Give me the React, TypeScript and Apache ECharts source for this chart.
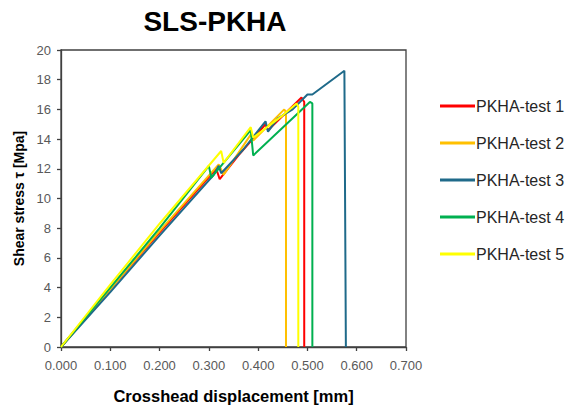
import React, { useEffect, useRef } from "react";
import * as echarts from "echarts";

const seriesNames = ["PKHA-test 1", "PKHA-test 2", "PKHA-test 3", "PKHA-test 4", "PKHA-test 5"];
const seriesColors = ["#FF0000", "#FFC000", "#1F6A8A", "#00B050", "#FFFF00"];

const test1: [number, number][] = [
  [0, 0], [0.1, 3.9], [0.2, 7.7], [0.315, 12.0], [0.322, 11.3], [0.36, 12.9],
  [0.415, 15.0], [0.42, 14.6], [0.488, 16.8], [0.4935, 16.5], [0.4935, 0],
];
const test2: [number, number][] = [
  [0, 0], [0.1, 3.9], [0.2, 7.8], [0.32, 12.3], [0.33, 11.6], [0.385, 14.3],
  [0.39, 13.9], [0.453, 16.0], [0.4565, 15.8], [0.4565, 0],
];
const test3: [number, number][] = [
  [0, 0], [0.1, 3.7], [0.2, 7.5], [0.31, 11.6], [0.32, 12.2], [0.325, 11.7],
  [0.37, 13.3], [0.415, 15.2], [0.42, 14.5], [0.44, 15.4], [0.47, 16.0],
  [0.5, 17.0], [0.51, 17.0], [0.575, 18.6], [0.578, 0],
];
const test4: [number, number][] = [
  [0, 0], [0.1, 4.0], [0.2, 8.0], [0.3, 12.2], [0.305, 11.4], [0.385, 14.6],
  [0.39, 12.9], [0.505, 16.5], [0.51, 16.4], [0.51, 0],
];
const test5: [number, number][] = [
  [0, 0], [0.1, 4.2], [0.2, 8.3], [0.325, 13.2], [0.33, 12.4], [0.385, 14.8],
  [0.39, 14.1], [0.45, 15.6], [0.478, 16.4], [0.4815, 16.2], [0.4815, 0],
];
const allData = [test1, test2, test3, test4, test5];

const xTicks = { min: 0, max: 0.7, interval: 0.1 };
const yTicks = { min: 0, max: 20, interval: 2 };

export default function App() {
  const ref = useRef<HTMLDivElement>(null);
  useEffect(() => {
    if (!ref.current) return;
    const chart = echarts.init(ref.current, undefined, { renderer: "svg" });
    const axisColor = "#404040";
    chart.setOption({
      animation: false,
      backgroundColor: "#ffffff",
      title: {
        text: "SLS-PKHA",
        left: 210,
        textAlign: "center",
        top: 2,
        textStyle: { fontFamily: "Liberation Sans", fontWeight: "bold", fontSize: 28, color: "#000" },
      },
      grid: {
        left: 61, right: 160, top: 50, bottom: 57,
        show: true, borderColor: axisColor, borderWidth: 1.3, backgroundColor: "transparent",
      },
      legend: {
        orient: "vertical",
        left: 435,
        top: 93,
        icon: "rect",
        itemWidth: 35,
        itemHeight: 3,
        itemGap: 21,
        textStyle: { fontFamily: "Liberation Sans", fontSize: 16, color: "#262626", padding: [0, 0, 0, -4] },
        data: seriesNames,
      },
      xAxis: {
        type: "value",
        ...xTicks,
        name: "Crosshead displacement [mm]",
        nameLocation: "middle",
        nameGap: 40,
        nameTextStyle: { fontFamily: "Liberation Sans", fontWeight: "bold", fontSize: 16.5, color: "#000" },
        axisLine: { show: true, lineStyle: { color: axisColor, width: 1.3 } },
        axisTick: { show: true, length: 4, lineStyle: { color: axisColor, width: 1.3 } },
        axisLabel: {
          fontFamily: "Liberation Sans", fontSize: 13, color: "#595959", margin: 12,
          formatter: (v: number) => v.toFixed(3),
        },
        splitLine: { show: false },
      },
      yAxis: {
        type: "value",
        ...yTicks,
        name: "Shear stress τ [Mpa]",
        nameLocation: "middle",
        nameGap: 34,
        nameTextStyle: { fontFamily: "Liberation Sans", fontWeight: "bold", fontSize: 14, color: "#000" },
        axisLine: { show: true, lineStyle: { color: axisColor, width: 1.3 } },
        axisTick: { show: true, length: 4, lineStyle: { color: axisColor, width: 1.3 } },
        axisLabel: { fontFamily: "Liberation Sans", fontSize: 13, color: "#595959", margin: 10 },
        splitLine: { show: false },
      },
      series: allData.map((d, i) => ({
        name: seriesNames[i],
        type: "line",
        data: d,
        showSymbol: false,
        symbol: "none",
        color: seriesColors[i],
        lineStyle: { color: seriesColors[i], width: 2 },
      })),
    });
    return () => chart.dispose();
  }, []);
  return <div ref={ref} style={{ position: "fixed", left: 0, top: 0, width: 566, height: 409 }} />;
}
